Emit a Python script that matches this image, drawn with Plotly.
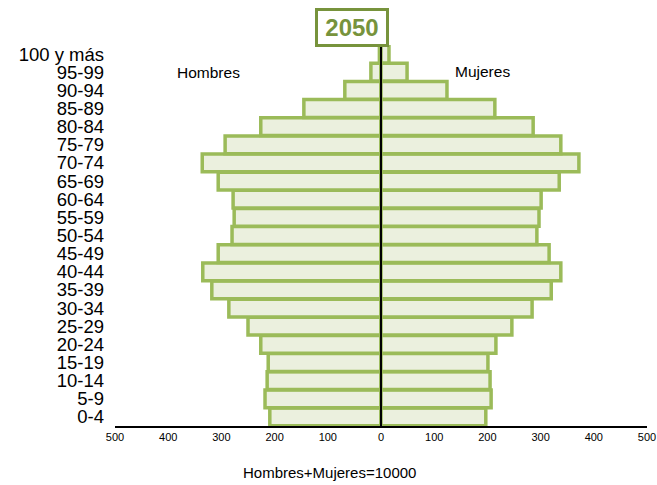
import plotly.graph_objects as go

# grupos de edad, de abajo hacia arriba
edades = ["0-4", "5-9", "10-14", "15-19", "20-24", "25-29", "30-34", "35-39",
          "40-44", "45-49", "50-54", "55-59", "60-64", "65-69", "70-74",
          "75-79", "80-84", "85-89", "90-94", "95-99", "100 y más"]

# por cada 10000 habitantes
hombres = [209, 218, 214, 212, 226, 250, 286, 318, 335, 306, 280,
           276, 278, 306, 336, 293, 226, 145, 68, 19, 3]
mujeres = [197, 207, 205, 201, 216, 246, 284, 320, 338, 316, 293,
           297, 301, 335, 372, 338, 286, 214, 124, 49, 15]

ticks = [-500, -400, -300, -200, -100, 0, 100, 200, 300, 400, 500]
tick_text = [str(abs(t)) for t in ticks]

relleno = "#EBF0DE"
borde = "#9BBB59"

fig = go.Figure()
fig.add_bar(y=edades, x=[-h for h in hombres], orientation="h", name="Hombres",
            marker=dict(color=relleno, line=dict(color=borde, width=3.5)))
fig.add_bar(y=edades, x=mujeres, orientation="h", name="Mujeres",
            marker=dict(color=relleno, line=dict(color=borde, width=3.5)))

# linea central
fig.add_shape(type="line", xref="x", yref="y", x0=0, x1=0, y0=-0.5, y1=20.5,
              line=dict(color="black", width=2), layer="above")

fig.add_annotation(text="<b>2050</b>", x=0.4455, y=1.047, xref="paper", yref="paper",
                   xanchor="center", yanchor="middle",
                   showarrow=False, font=dict(size=24, color="#77933C"),
                   width=64, height=29,
                   bordercolor="#77933C", borderwidth=3, borderpad=2, bgcolor="white")
fig.add_annotation(text="Hombres", x=0.175, y=0.929, xref="paper", yref="paper",
                   xanchor="center", yanchor="middle",
                   showarrow=False, font=dict(size=15.5, color="black"))
fig.add_annotation(text="Mujeres", x=0.69, y=0.931, xref="paper", yref="paper",
                   xanchor="center", yanchor="middle",
                   showarrow=False, font=dict(size=15.5, color="black"))
fig.add_annotation(text="Hombres+Mujeres=10000", x=0.404, y=-0.123,
                   xref="paper", yref="paper", xanchor="center", yanchor="middle",
                   showarrow=False, font=dict(size=15, color="black"))

fig.update_layout(
    width=657, height=485,
    margin=dict(l=115, r=10, t=45, b=59),
    paper_bgcolor="white", plot_bgcolor="white",
    barmode="overlay", bargap=0.02, showlegend=False,
    font=dict(family="Liberation Sans, Arial, sans-serif", color="black"),
)
fig.update_xaxes(range=[-500, 500], tickvals=ticks, ticktext=tick_text,
                 tickfont=dict(size=11), showgrid=False, zeroline=False,
                 showline=True, linecolor="black", linewidth=1.5, ticks="",
                 automargin=False, ticklabeloverflow="allow")
fig.update_yaxes(range=[-0.5, 20.5], tickmode="array", tickvals=edades,
                 ticktext=edades, tickfont=dict(size=18.5), showgrid=False,
                 zeroline=False, showline=False, ticks="", ticklabelstandoff=10,
                 automargin=False)

# quitar el margen del body para que la figura empiece en (0, 0)
fig.write_html("out.html", config={"displayModeBar": False},
               post_script="document.body.style.margin='0';")
